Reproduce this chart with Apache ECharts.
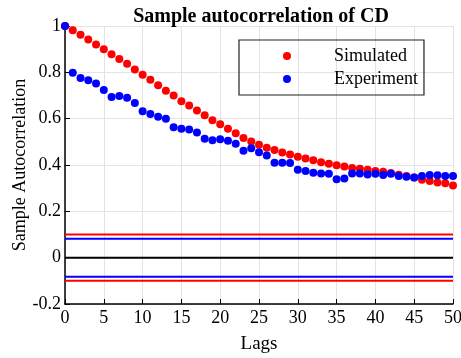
<!DOCTYPE html>
<html><head><meta charset="utf-8">
<script src="https://cdn.jsdelivr.net/npm/echarts@6/dist/echarts.min.js"></script>
<style>html,body{margin:0;padding:0;background:#fff}#c{width:461px;height:358px}</style>
</head><body><div id="c"></div>
<script>
const lags = [0,1,2,3,4,5,6,7,8,9,10,11,12,13,14,15,16,17,18,19,20,21,22,23,24,25,26,27,28,29,30,31,32,33,34,35,36,37,38,39,40,41,42,43,44,45,46,47,48,49,50];
const simulated = [1.0,0.982,0.962,0.942,0.920,0.900,0.878,0.858,0.837,0.812,0.790,0.768,0.744,0.721,0.700,0.675,0.657,0.635,0.615,0.593,0.576,0.556,0.537,0.517,0.501,0.487,0.475,0.465,0.454,0.445,0.436,0.428,0.420,0.412,0.405,0.399,0.393,0.387,0.384,0.379,0.374,0.371,0.365,0.358,0.352,0.346,0.336,0.331,0.325,0.321,0.312];
const experiment = [1.0,0.798,0.776,0.766,0.752,0.724,0.694,0.698,0.690,0.668,0.632,0.620,0.608,0.600,0.563,0.557,0.553,0.540,0.513,0.507,0.511,0.505,0.492,0.462,0.472,0.455,0.441,0.410,0.410,0.409,0.379,0.374,0.367,0.363,0.362,0.338,0.342,0.363,0.363,0.359,0.362,0.357,0.362,0.352,0.349,0.346,0.352,0.357,0.356,0.352,0.352];
const simBound = 0.1;
const expBound = 0.082;
const xRange = [0, 50];

const font = 'Liberation Serif';
const hline = (y, color) => ({
  type: 'line', data: [[xRange[0], y], [xRange[1], y]], symbol: 'none',
  lineStyle: {color: color, width: 2}, silent: true, z: 1
});
const chart = echarts.init(document.getElementById('c'), null, {renderer: 'canvas'});
chart.setOption({
  animation: false,
  backgroundColor: '#fff',
  title: {text: 'Sample autocorrelation of CD', left: 256, textAlign: 'center', top: 2,
    textStyle: {fontFamily: font, fontWeight: 'bold', fontSize: 20, color: '#000'}},
  legend: {
    data: ['Simulated', 'Experiment'], orient: 'vertical', left: 239, top: 40,
    icon: 'circle', itemWidth: 8, itemHeight: 8, itemGap: 5,
    borderColor: '#222', borderWidth: 1.2, padding: [7, 6, 7, 44],
    textStyle: {fontFamily: font, fontSize: 18, color: '#000', padding: [0, 0, 0, 38], lineHeight: 18}
  },
  grid: {left: 65, right: 8, top: 26, bottom: 54, containLabel: false, outerBoundsMode: 'none'},
  xAxis: {
    type: 'value', min: 0, max: 50, interval: 5,
    name: 'Lags', nameLocation: 'middle', nameGap: 31, nameMoveOverlap: false,
    nameTextStyle: {fontFamily: font, fontSize: 19, color: '#000'},
    axisLine: {show: true, onZero: false, lineStyle: {color: '#000', width: 1.5}},
    axisTick: {show: true, inside: true, length: 5, lineStyle: {color: '#000'}},
    axisLabel: {fontFamily: font, fontSize: 18, color: '#000', margin: 5},
    splitLine: {show: true, lineStyle: {color: '#e3e3e3', width: 1}}
  },
  yAxis: {
    type: 'value', min: -0.2, max: 1, interval: 0.2,
    name: 'Sample Autocorrelation', nameLocation: 'middle', nameGap: 36, nameMoveOverlap: false,
    nameTextStyle: {fontFamily: font, fontSize: 18, color: '#000'},
    axisLine: {show: true, onZero: false, lineStyle: {color: '#000', width: 1.5}},
    axisTick: {show: true, inside: true, length: 5, lineStyle: {color: '#000'}},
    axisLabel: {fontFamily: font, fontSize: 18, color: '#000', margin: 4},
    splitLine: {show: true, lineStyle: {color: '#e3e3e3', width: 1}}
  },
  series: [
    hline(simBound, '#ff0000'), hline(-simBound, '#ff0000'),
    hline(expBound, '#0000ff'), hline(-expBound, '#0000ff'),
    hline(0, '#000000'),
    {name: 'Simulated', type: 'scatter', data: lags.map((l, i) => [l, simulated[i]]),
      symbolSize: 8, itemStyle: {color: '#ff0000', opacity: 1}, z: 3},
    {name: 'Experiment', type: 'scatter', data: lags.map((l, i) => [l, experiment[i]]),
      symbolSize: 8, itemStyle: {color: '#0000ff', opacity: 1}, z: 4}
  ]
});
</script></body></html>
